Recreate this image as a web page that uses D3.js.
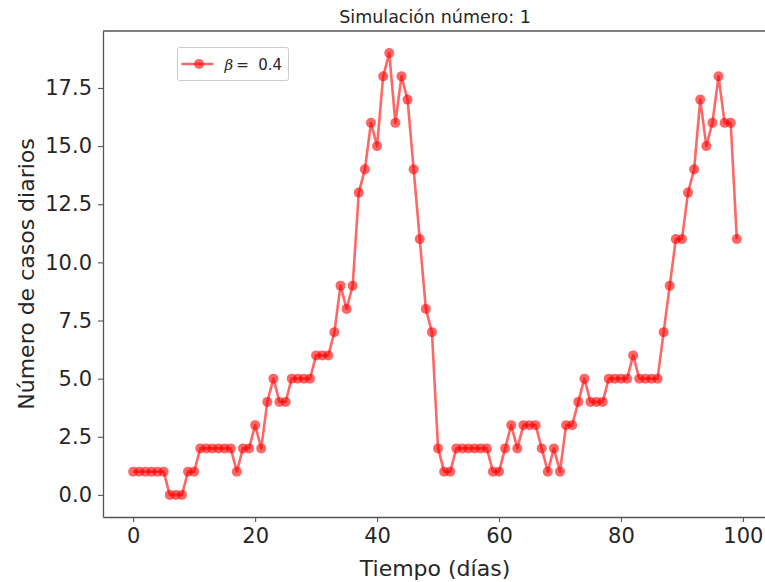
<!DOCTYPE html>
<html>
<head>
<meta charset="utf-8">
<script src="https://cdn.jsdelivr.net/npm/d3@7"></script>
<style>
  body { margin: 0; background: #fff; }
  svg { display: block; font-family: "DejaVu Sans", sans-serif; }
</style>
</head>
<body>
<svg id="chart"></svg>
<script>
// casos diarios, un valor por día (0..99)
const days = d3.range(0, 100);
const cases = [
  1, 1, 1, 1, 1, 1, 0, 0, 0, 1,
  1, 2, 2, 2, 2, 2, 2, 1, 2, 2,
  3, 2, 4, 5, 4, 4, 5, 5, 5, 5,
  6, 6, 6, 7, 9, 8, 9, 13, 14, 16,
  15, 18, 19, 16, 18, 17, 14, 11, 8, 7,
  2, 1, 1, 2, 2, 2, 2, 2, 2, 1,
  1, 2, 3, 2, 3, 3, 3, 2, 1, 2,
  1, 3, 3, 4, 5, 4, 4, 4, 5, 5,
  5, 5, 6, 5, 5, 5, 5, 7, 9, 11,
  11, 13, 14, 17, 15, 16, 18, 16, 16, 11
];
const xTicks = [0, 20, 40, 60, 80, 100];
const yTicks = [0, 2.5, 5, 7.5, 10, 12.5, 15, 17.5];
const title = "Simulación número: 1";
const xLabel = "Tiempo (días)";
const yLabel = "Número de casos diarios";
const beta = 0.4;

const W = 765, H = 582;
const margin = {top: 31, right: -2, bottom: 65, left: 103};
const width = W - margin.left - margin.right;
const height = H - margin.top - margin.bottom;

const svg = d3.select("#chart").attr("width", W).attr("height", H);
const g = svg.append("g").attr("transform", `translate(${margin.left},${margin.top})`);

// matplotlib style 5% padding
const x = d3.scaleLinear().domain([-4.95, 103.95]).range([0, width]);
const y = d3.scaleLinear().domain([-0.95, 19.95]).range([height, 0]);

const axisColor = "#555";
const textColor = "#262626";

// x axis
const xAxis = g.append("g")
  .attr("transform", `translate(0,${height})`)
  .call(d3.axisBottom(x).tickValues(xTicks).tickSize(5).tickSizeOuter(0).tickPadding(6).tickFormat(d3.format("d")));
// y axis
const yAxis = g.append("g")
  .call(d3.axisLeft(y).tickValues(yTicks).tickSize(5).tickSizeOuter(0).tickPadding(6).tickFormat(d3.format(".1f")));

[xAxis, yAxis].forEach(a => {
  a.select(".domain").attr("stroke", axisColor).attr("stroke-width", 1.3);
  a.selectAll(".tick line").attr("stroke", axisColor).attr("stroke-width", 1.1);
  a.selectAll(".tick text").attr("fill", textColor).attr("font-size", 21).attr("font-family", "DejaVu Sans");
});

// top spine
g.append("line").attr("x1", 0).attr("x2", width).attr("y1", 0).attr("y2", 0)
  .attr("stroke", axisColor).attr("stroke-width", 1.3);

// line + markers
const series = days.map((d, i) => [d, cases[i]]);
g.append("path")
  .datum(series)
  .attr("d", d3.line().x(d => x(d[0])).y(d => y(d[1])))
  .attr("fill", "none")
  .attr("stroke", "red")
  .attr("stroke-opacity", 0.6)
  .attr("stroke-width", 2.6)
  .attr("stroke-linejoin", "round");

g.append("g").selectAll("circle")
  .data(series)
  .join("circle")
  .attr("cx", d => x(d[0]))
  .attr("cy", d => y(d[1]))
  .attr("r", 5)
  .attr("fill", "red")
  .attr("fill-opacity", 0.6);

// title and labels
svg.append("text")
  .attr("x", margin.left + width / 2).attr("y", 23)
  .attr("text-anchor", "middle").attr("font-size", 17.5).attr("fill", textColor)
  .text(title);

svg.append("text")
  .attr("x", margin.left + width / 2).attr("y", 576)
  .attr("text-anchor", "middle").attr("font-size", 22).attr("fill", textColor)
  .text(xLabel);

svg.append("text")
  .attr("transform", `translate(${34},${margin.top + y(9.5)}) rotate(-90)`)
  .attr("text-anchor", "middle").attr("font-size", 22).attr("fill", textColor)
  .text(yLabel);

// legend
const lg = svg.append("g").attr("transform", "translate(177.5,47.5)");
lg.append("rect").attr("width", 111).attr("height", 33).attr("rx", 2)
  .attr("fill", "#fff").attr("stroke", "#ccc").attr("stroke-width", 1);
lg.append("line").attr("x1", 4).attr("x2", 36).attr("y1", 16.5).attr("y2", 16.5)
  .attr("stroke", "red").attr("stroke-opacity", 0.6).attr("stroke-width", 2.6);
lg.append("circle").attr("cx", 21.5).attr("cy", 16.5).attr("r", 5)
  .attr("fill", "red").attr("fill-opacity", 0.6);
const lt = lg.append("text").attr("x", 47).attr("y", 22).attr("font-size", 15)
  .attr("fill", textColor).attr("xml:space", "preserve");
lt.append("tspan").attr("font-style", "italic").attr("font-family", "DejaVu Serif").text("β");
lt.append("tspan").attr("dx", 3).text(`=  ${beta}`);
</script>
</body>
</html>
